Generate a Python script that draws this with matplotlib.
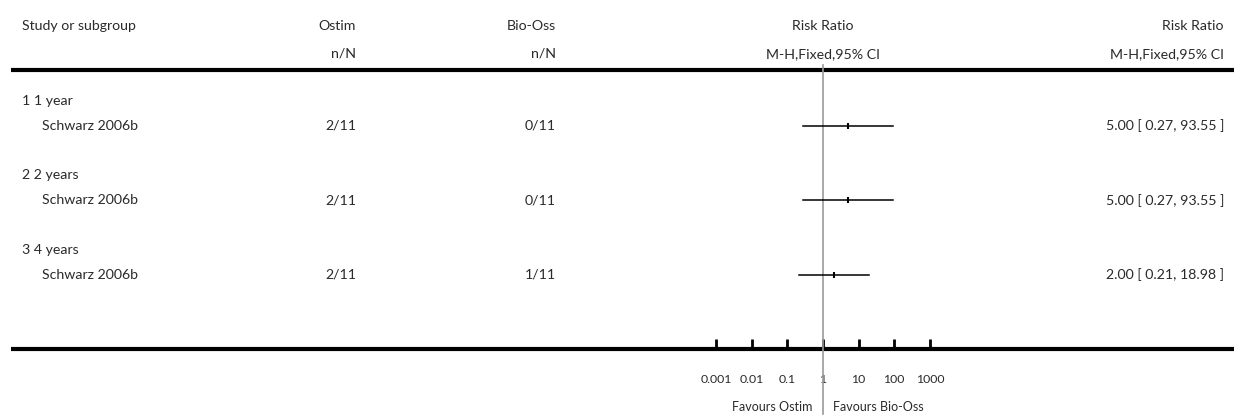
import numpy as np
import matplotlib
matplotlib.use("Agg")
import matplotlib.pyplot as plt

plt.rcParams['font.family'] = ['Lato', 'DejaVu Sans']

# forest plot data (Risk Ratio, M-H fixed, 95% CI)
subgroups = ["1 1 year", "2 2 years", "3 4 years"]
studies = ["Schwarz 2006b", "Schwarz 2006b", "Schwarz 2006b"]
ostim = ["2/11", "2/11", "2/11"]
bio_oss = ["0/11", "0/11", "1/11"]
rr = [5.00, 5.00, 2.00]
ci_lo = [0.27, 0.27, 0.21]
ci_hi = [93.55, 93.55, 18.98]
tick_vals = [0.001, 0.01, 0.1, 1, 10, 100, 1000]
tick_labels = ["0.001", "0.01", "0.1", "1", "10", "100", "1000"]

W, H = 1234, 415
TXT = "#2a2a2a"
FS = 10.2


def fy(py):
    return 1 - py / H


def row_py(r):
    return 101 + 24.8 * r


fig = plt.figure(figsize=(W / 100, H / 100), dpi=100)

# full-figure axes in pixel coords for the table text and rules
ax = fig.add_axes([0, 0, 1, 1])
ax.set_xlim(0, W); ax.set_ylim(H, 0); ax.axis("off")

C_STUDY, C_SUB, C_OST, C_BIO, C_MID, C_RIGHT = 22, 42, 356, 556, 823, 1224

ax.text(C_STUDY, 26, "Study or subgroup", ha="left", va="center", fontsize=FS, color=TXT)
ax.text(C_OST, 26, "Ostim", ha="right", va="center", fontsize=FS, color=TXT)
ax.text(C_BIO, 26, "Bio-Oss", ha="right", va="center", fontsize=FS, color=TXT)
ax.text(C_MID, 26, "Risk Ratio", ha="center", va="center", fontsize=FS, color=TXT)
ax.text(C_RIGHT, 26, "Risk Ratio", ha="right", va="center", fontsize=FS, color=TXT)
ax.text(C_OST, 54, "n/N", ha="right", va="center", fontsize=FS, color=TXT)
ax.text(C_BIO, 54, "n/N", ha="right", va="center", fontsize=FS, color=TXT)
ax.text(C_MID, 54, "M-H,Fixed,95% CI", ha="center", va="center", fontsize=FS, color=TXT)
ax.text(C_RIGHT, 54, "M-H,Fixed,95% CI", ha="right", va="center", fontsize=FS, color=TXT)
ax.plot([11, W], [70, 70], color="black", lw=3, solid_capstyle="butt")
ax.plot([11, W], [349, 349], color="black", lw=3, solid_capstyle="butt")

for i, sg in enumerate(subgroups):
    r0 = 3 * i
    ax.text(C_STUDY, row_py(r0), sg, ha="left", va="center", fontsize=FS, color=TXT)
    ax.text(C_SUB, row_py(r0 + 1), studies[i], ha="left", va="center", fontsize=FS, color=TXT)
    ax.text(C_OST, row_py(r0 + 1), ostim[i], ha="right", va="center", fontsize=FS, color=TXT)
    ax.text(C_BIO, row_py(r0 + 1), bio_oss[i], ha="right", va="center", fontsize=FS, color=TXT)
    ax.text(C_RIGHT, row_py(r0 + 1), f"{rr[i]:.2f} [ {ci_lo[i]:.2f}, {ci_hi[i]:.2f} ]",
            ha="right", va="center", fontsize=FS, color=TXT)

ax.text(813, 407, "Favours Ostim", ha="right", va="center", fontsize=9, color=TXT)
ax.text(833, 407, "Favours Bio-Oss", ha="left", va="center", fontsize=9, color=TXT)

# forest panel on a log scale: 1 decade ~ 35.6 px, centred at x=823
dec = 35.6
half = 3.5 * dec
top_py, bot_py = 65, 349
fax = fig.add_axes([(C_MID - half) / W, fy(bot_py), 2 * half / W, (bot_py - top_py) / H])
fax.set_xscale("log")
fax.set_xlim(10 ** -3.5, 10 ** 3.5)
fax.set_ylim((bot_py - 101) / 24.8, (top_py - 101) / 24.8)
fax.patch.set_alpha(0)
for s in fax.spines.values():
    s.set_visible(False)
fax.set_yticks([])
fax.set_xticks(tick_vals)
fax.set_xticklabels(tick_labels)
fax.minorticks_off()
fax.tick_params(axis="x", direction="in", length=7, width=2, color="black",
                labelsize=8.8, labelcolor=TXT, pad=18)

fax.axvline(1, ymin=-0.23, ymax=1, color="#999999", lw=1.2, clip_on=False)
for i in range(len(rr)):
    r = 3 * i + 1
    fax.plot([ci_lo[i], ci_hi[i]], [r, r], color="black", lw=1.1)
    fax.plot([rr[i]], [r], marker="|", ms=4.5, mew=1.5, color="black")

fig.savefig("out.png", dpi=100)
